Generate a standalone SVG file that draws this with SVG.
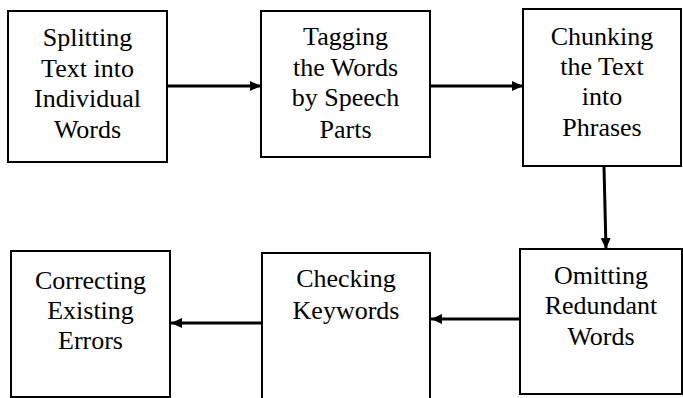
<svg xmlns="http://www.w3.org/2000/svg" width="683" height="398" viewBox="0 0 683 398">
<style>
.box{fill:#fff;stroke:#000;stroke-width:2}
.t{font-size:26px;fill:#000;text-anchor:middle}
.c{stroke:#000;stroke-width:3;fill:none;marker-end:url(#ah)}
</style>
<defs>
<marker id="ah" markerUnits="userSpaceOnUse" markerWidth="12" markerHeight="12" viewBox="0 0 12 12" refX="11" refY="6" orient="auto">
<path d="M0,1 L11,6 L0,11 Z" fill="#000"/>
</marker>
</defs>
<rect width="683" height="398" fill="#fff"/>
<g id="connectors">
<line class="c" x1="168" y1="86" x2="261" y2="86"/>
<line class="c" x1="431" y1="86" x2="523" y2="86"/>
<line class="c" x1="604" y1="167" x2="606" y2="249"/>
<line class="c" x1="519" y1="319" x2="431" y2="319"/>
<line class="c" x1="261" y1="323" x2="171" y2="323"/>
</g>
<g font-family="Liberation Serif, Times New Roman, serif">
<g id="n1">
<rect class="box" x="8" y="11" width="159" height="151"/>
<text class="t" x="87.5" y="46">Splitting</text>
<text class="t" x="87.5" y="77">Text into</text>
<text class="t" x="87.5" y="107">Individual</text>
<text class="t" x="87.5" y="138">Words</text>
</g>
<g id="n2">
<rect class="box" x="261" y="11" width="169" height="146"/>
<text class="t" x="345.5" y="45">Tagging</text>
<text class="t" x="345.5" y="76">the Words</text>
<text class="t" x="345.5" y="106">by Speech</text>
<text class="t" x="345.5" y="138">Parts</text>
</g>
<g id="n3">
<rect class="box" x="523" y="9" width="158" height="157"/>
<text class="t" x="602" y="45">Chunking</text>
<text class="t" x="602" y="75">the Text</text>
<text class="t" x="602" y="105">into</text>
<text class="t" x="602" y="136">Phrases</text>
</g>
<g id="n6">
<rect class="box" x="520" y="249" width="162" height="145"/>
<text class="t" x="601" y="284">Omitting</text>
<text class="t" x="601" y="314">Redundant</text>
<text class="t" x="601" y="345">Words</text>
</g>
<g id="n5">
<rect class="box" x="262" y="253" width="168" height="150"/>
<text class="t" x="346" y="287">Checking</text>
<text class="t" x="346" y="319">Keywords</text>
</g>
<g id="n4">
<rect class="box" x="11" y="251" width="159" height="146"/>
<text class="t" x="90.5" y="289">Correcting</text>
<text class="t" x="90.5" y="319">Existing</text>
<text class="t" x="90.5" y="349">Errors</text>
</g>
</g>
</svg>
